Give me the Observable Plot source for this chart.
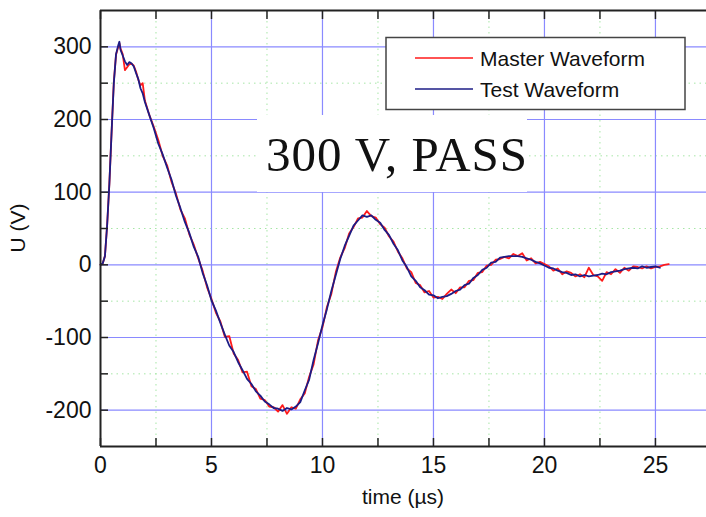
<!DOCTYPE html>
<html><head><meta charset="utf-8">
<script src="https://cdn.jsdelivr.net/npm/d3@7"></script>
<script src="https://cdn.jsdelivr.net/npm/@observablehq/plot@0.6"></script>
<style>
body{margin:0;background:#fff;}
#chart svg{display:block;}
</style>
</head><body><div id="chart"></div>
<script>
// ---- data ----
const times = [0,0.1,0.2,0.3,0.4,0.5,0.6,0.7,0.8,0.85,0.9,1.0,1.1,1.2,1.3,1.4,1.5,1.6,1.7,1.8,1.9,2.0,
  2.2,2.4,2.6,2.8,3.0,3.2,3.4,3.6,3.8,4.0,4.2,4.4,4.6,4.8,5.0,5.2,5.4,5.6,5.8,6.0,6.2,6.4,6.6,6.8,7.0,
  7.2,7.4,7.6,7.8,8.0,8.2,8.4,8.6,8.8,9.0,9.2,9.4,9.6,9.8,10.0,10.2,10.4,10.6,10.8,11.0,11.2,11.4,11.6,11.8,
  12.0,12.2,12.4,12.6,12.8,13.0,13.2,13.4,13.6,13.8,14.0,14.2,14.4,14.6,14.8,15.0,15.2,15.4,15.6,15.8,
  16.0,16.2,16.4,16.6,16.8,17.0,17.2,17.4,17.6,17.8,18.0,18.2,18.4,18.6,18.8,19.0,19.2,19.4,19.6,19.8,
  20.0,20.2,20.4,20.6,20.8,21.0,21.2,21.4,21.6,21.8,22.0,22.2,22.4,22.6,22.8,23.0,23.2,23.4,23.6,23.8,
  24.0,24.2,24.4,24.6,24.8,25.0,25.2,25.4,25.6];
const testValues = [0,2,12,55,112,183,250,290,302,307,296,288,280,275,279,277,273,264,256,243,236,224,
  206,188,167,152,134,117,95,78,59,44,25,11,-11,-28,-49,-63,-80,-96,-111,-120,-134,-145,-157,-164,-174,
  -180,-188,-192,-197,-198,-201,-197,-199,-195,-189,-173,-158,-131,-108,-83,-61,-36,-14,8,26,40,54,61,68,
  66,68,62,58,48,41,29,20,6,-3,-16,-22,-31,-35,-41,-42,-46,-44,-43,-40,
  -36,-34,-28,-26,-18,-14,-7,-4,3,4,10,11,12,12,12,11,9,7,4,2,
  -1,-4,-5,-8,-10,-11,-14,-13,-16,-14,-16,-15,-14,-12,-13,-10,-9,-8,-6,-5,
  -4,-5,-2,-4,-3,-2,-4,null,null];
const masterValues = [0,2,12,55,112,183,252,289,300,305,298,290,268,272,276,277,274,266,255,247,250,226,
  206,190,172,150,137,114,98,76,64,42,28,9,-8,-31,-47,-66,-78,-99,-98,-122,-131,-148,-147,-167,-171,
  -184,-186,-195,-196,-202,-193,-205,-196,-198,-185,-177,-154,-137,-104,-86,-58,-40,-10,10,23,43,52,64,65,
  74,67,65,56,51,39,32,18,9,-5,-10,-25,-28,-38,-36,-45,-44,-47,-40,-34,
  -39,-31,-31,-22,-21,-11,-10,-1,0,7,8,11,9,15,12,16,6,9,2,4,
  1,-2,-8,-5,-13,-9,-11,-16,-13,-17,-4,-14,-16,-22,-10,-13,-6,-11,-4,-8,
  -2,-3,-5,-2,-5,-3,-2,0,1];
const seriesNames = ["Master Waveform", "Test Waveform"];
const seriesColors = ["#ff1a1a", "#1c1c86"];
const xTicks = [0, 5, 10, 15, 20, 25];
const xMinorTicks = [2.5, 7.5, 12.5, 17.5, 22.5];
const yTicks = [-200, -100, 0, 100, 200, 300];
const yMinorTicks = [-150, -50, 50, 150, 250];
const xDomain = [0, 27.3];
const yDomain = [-250, 350];
const xLabel = "time (\u00b5s)";
const yLabel = "U (V)";
const annotationText = "300 V, PASS";

const master = times.map((t, i) => ({t, v: masterValues[i]})).filter(d => d.v != null);
const test = times.map((t, i) => ({t, v: testValues[i]})).filter(d => d.v != null);

const FONT = "'Liberation Sans', Arial, Helvetica, sans-serif";

function annotationMark(index, scales, values, dims) {
  const g = d3.create("svg:g");
  g.append("rect").attr("x", 257).attr("y", 115).attr("width", 270).attr("height", 77).attr("fill", "#fff");
  g.append("text").attr("x", 266).attr("y", 171).attr("text-anchor", "start")
    .attr("font-family", "'Liberation Serif', 'Times New Roman', serif")
    .attr("font-size", 49).attr("letter-spacing", 1).attr("fill", "#111").text(annotationText);
  return g.node();
}

function labelsMark(index, scales, values, dims) {
  const g = d3.create("svg:g").attr("font-family", FONT).attr("font-size", 21).attr("fill", "#111");
  g.append("text").attr("x", 403).attr("y", 504).attr("text-anchor", "middle").text(xLabel);
  const cy = (dims.marginTop + dims.height - dims.marginBottom) / 2;
  g.append("text").attr("transform", `translate(25,${cy}) rotate(-90)`).attr("text-anchor", "middle").text(yLabel);
  return g.node();
}

function legendMark(index, scales, values, dims) {
  const g = d3.create("svg:g");
  g.append("rect").attr("x", 386).attr("y", 37.5).attr("width", 299).attr("height", 72)
    .attr("fill", "#fff").attr("stroke", "#444").attr("stroke-width", 1.5);
  seriesNames.forEach((name, i) => {
    const y = 58 + i * 31;
    g.append("line").attr("x1", 415).attr("x2", 473).attr("y1", y).attr("y2", y)
      .attr("stroke", seriesColors[i]).attr("stroke-width", 1.5);
    g.append("text").attr("x", 480).attr("y", y).attr("dy", "0.36em").attr("text-anchor", "start")
      .attr("font-family", FONT).attr("font-size", 21).attr("fill", "#111").text(name);
  });
  return g.node();
}

const chart = Plot.plot({
  width: 706,
  height: 517,
  marginLeft: 100,
  marginRight: 0,
  marginTop: 10,
  marginBottom: 71,
  style: {fontFamily: FONT, fontSize: "21px", color: "#111", background: "#fff"},
  x: {domain: xDomain},
  y: {domain: yDomain},
  marks: [
    Plot.ruleX(xMinorTicks, {stroke: "#a6e6a6", strokeWidth: 1, strokeDasharray: "1.5,4"}),
    Plot.ruleY(yMinorTicks, {stroke: "#a6e6a6", strokeWidth: 1, strokeDasharray: "1.5,4"}),
    Plot.ruleX(xTicks.filter(d => d > xDomain[0]), {stroke: "#8a8aff", strokeWidth: 1.2}),
    Plot.ruleY(yTicks, {stroke: "#8a8aff", strokeWidth: 1.2}),
    annotationMark,
    Plot.line(master, {x: "t", y: "v", stroke: seriesColors[0], strokeWidth: 1.8}),
    Plot.line(test, {x: "t", y: "v", stroke: seriesColors[1], strokeWidth: 1.8}),
    Plot.axisX(xTicks.concat(xMinorTicks), {anchor: "bottom", tickSize: -8, strokeWidth: 1.5, stroke: "#222", tickFormat: () => "", label: null}),
    Plot.axisX(xTicks.concat(xMinorTicks), {anchor: "top", tickSize: -8, strokeWidth: 1.5, stroke: "#222", tickFormat: () => "", label: null}),
    Plot.axisY(yTicks.concat(yMinorTicks), {anchor: "left", tickSize: -8, strokeWidth: 1.5, stroke: "#222", tickFormat: () => "", label: null}),
    Plot.axisX(xTicks, {anchor: "bottom", tickSize: 0, tickPadding: 10, fontSize: 23, tickFormat: d => String(d), label: null}),
    Plot.axisY(yTicks, {anchor: "left", tickSize: 0, tickPadding: 9, fontSize: 23, tickFormat: d => String(d), label: null}),
    Plot.ruleX([xDomain[0]], {stroke: "#222", strokeWidth: 2}),
    Plot.ruleY(yDomain, {stroke: "#222", strokeWidth: 2}),
    legendMark,
    labelsMark
  ]
});
document.getElementById("chart").append(chart);
</script>
</body></html>
